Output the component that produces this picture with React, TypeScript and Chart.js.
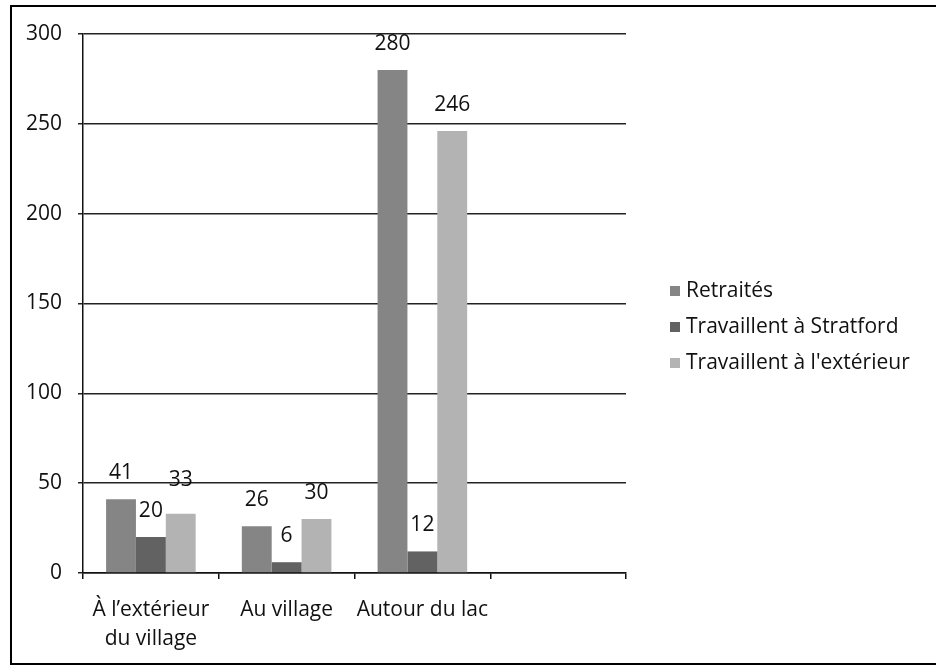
import React, { useEffect, useRef } from "react";
import { Chart, registerables } from "chart.js";

Chart.register(...registerables);

const categories: (string | string[])[] = [["À l’extérieur", "du village"], "Au village", "Autour du lac", ""];
const seriesNames = ["Retraités", "Travaillent à Stratford", "Travaillent à l'extérieur"];
const retraites = [41, 26, 280, null];
const stratford = [20, 6, 12, null];
const exterieur = [33, 30, 246, null];
const yTicks = [0, 50, 100, 150, 200, 250, 300];

const colors = ["#858585", "#626262", "#b3b3b3"];
const FONT = "'Open Sans', 'DejaVu Sans', sans-serif";
const FS = 21;

const labelPlugin = {
  id: "valueLabels",
  afterDatasetsDraw(chart: any) {
    const ctx = chart.ctx;
    ctx.save();
    ctx.font = `${FS}px ${FONT}`;
    ctx.fillStyle = "#111";
    ctx.textAlign = "center";
    ctx.textBaseline = "middle";
    chart.data.datasets.forEach((ds: any, di: number) => {
      const meta = chart.getDatasetMeta(di);
      meta.data.forEach((bar: any, i: number) => {
        const v = ds.data[i];
        if (v === null || v === undefined) return;
        let dy = -26;
        if (di === 2 && i === 0) dy = -34;
        ctx.fillText(String(v), bar.x, bar.y + dy);
      });
    });
    ctx.restore();
  },
};

const legendPlugin = {
  id: "sideLegend",
  afterDraw(chart: any) {
    const ctx = chart.ctx;
    ctx.save();
    ctx.font = `${FS}px ${FONT}`;
    ctx.textBaseline = "middle";
    ctx.textAlign = "left";
    chart.data.datasets.forEach((ds: any, di: number) => {
      const y = 291 + di * 36;
      ctx.fillStyle = ds.backgroundColor;
      ctx.fillRect(670, y - 5, 10, 10);
      ctx.fillStyle = "#111";
      ctx.fillText(ds.label, 686, y);
    });
    ctx.restore();
  },
};

export default function App() {
  const ref = useRef<HTMLCanvasElement>(null);
  useEffect(() => {
    if (!ref.current) return;
    const chart = new Chart(ref.current, {
      type: "bar",
      data: {
        labels: categories,
        datasets: [
          { label: seriesNames[0], data: retraites, backgroundColor: colors[0] },
          { label: seriesNames[1], data: stratford, backgroundColor: colors[1] },
          { label: seriesNames[2], data: exterieur, backgroundColor: colors[2] },
        ],
      },
      options: {
        animation: false,
        responsive: false,
        maintainAspectRatio: false,
        layout: { padding: { top: 34, right: 310, left: 0, bottom: 0 } },
        datasets: { bar: { categoryPercentage: 0.66, barPercentage: 1.0 } },
        plugins: { legend: { display: false }, tooltip: { enabled: false } },
        scales: {
          x: {
            afterFit: (s: any) => { s.height = 93; },
            grid: { display: true, drawOnChartArea: false, drawTicks: true, tickLength: 6, offset: true, color: "#111", lineWidth: 1.5 },
            border: { display: true, color: "#111", width: 1.5 },
            ticks: { font: { family: FONT, size: FS, lineHeight: 1.4 }, color: "#111", padding: 16, maxRotation: 0, autoSkip: false },
          },
          y: {
            min: 0,
            max: 300,
            afterFit: (s: any) => { s.width = 83; },
            afterBuildTicks: (s: any) => { s.ticks = yTicks.map((v) => ({ value: v })); },
            grid: { color: "#222", lineWidth: 1.5, tickLength: 5 },
            border: { display: true, color: "#111", width: 1.5 },
            ticks: { font: { family: FONT, size: FS }, color: "#111", padding: 16 },
          },
        },
      },
      plugins: [labelPlugin, legendPlugin],
    });
    return () => chart.destroy();
  }, []);
  return (
    <div style={{ position: "fixed", left: 0, top: 0, width: 936, height: 666, overflow: "hidden", background: "#fff" }}>
      <div style={{ position: "absolute", left: 10, top: 5, width: 1000, height: 660, boxSizing: "border-box", border: "2px solid #000" }} />
      <canvas ref={ref} width={936} height={666} style={{ position: "absolute", left: 0, top: 0, width: 936, height: 666 }} />
    </div>
  );
}
